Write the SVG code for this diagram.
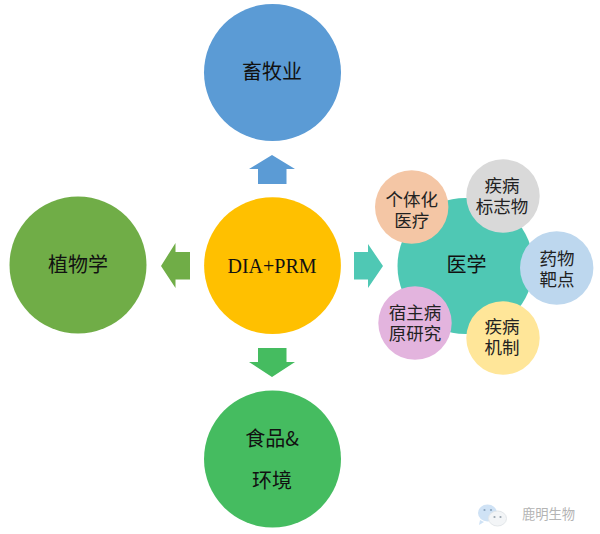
<svg xmlns="http://www.w3.org/2000/svg" width="600" height="534" viewBox="0 0 600 534">
<style>
.l{font-family:"Noto Sans CJK SC","Liberation Sans",sans-serif;font-size:20px;fill:#111;text-anchor:middle}
.s{font-family:"Noto Sans CJK SC","Liberation Sans",sans-serif;font-size:17.5px;fill:#222;text-anchor:middle}
.c{font-family:"Liberation Serif",serif;font-size:20px;fill:#111;text-anchor:middle}
.w{font-family:"Noto Sans CJK SC","Liberation Sans",sans-serif;font-size:13.300px;fill:#b4b4b4;text-anchor:middle}
</style>
<rect width="600" height="534" fill="#fff"/>
<g id="connectors">
<polygon points="272,155 295,169 286.500,169 286.500,184 258,184 258,169 249,169" fill="#5b9bd5"/>
<polygon points="161,266 175.500,243 175.500,252 190,252 190,279.500 175.500,279.500 175.500,288" fill="#70ad47"/>
<polygon points="383,266 368,244 368,252 354,252 354,279.500 368,279.500 368,288" fill="#4fc8b4"/>
<polygon points="272,377 295,362 286.500,362 286.500,348 258,348 258,362 249,362" fill="#45bc60"/>
</g>
<g id="node-xumuye"><circle cx="272.500" cy="72.500" r="68.500" fill="#5b9bd5"/><text class="l" x="272" y="79">畜牧业</text></g>
<g id="node-zhiwuxue"><circle cx="78" cy="265" r="68.500" fill="#70ad47"/><text class="l" x="78" y="272">植物学</text></g>
<g id="node-center"><circle cx="272.500" cy="265.700" r="68.400" fill="#ffc000"/><text class="c" x="272" y="273">DIA+PRM</text></g>
<g id="node-food"><circle cx="272.500" cy="459" r="68.500" fill="#45bc60"/><text class="l" x="272" y="446">食品&amp;</text><text class="l" x="272" y="488">环境</text></g>
<g id="node-yixue"><circle cx="465.500" cy="266" r="68" fill="#4fc8b4"/><text class="l" x="466.500" y="272">医学</text></g>
<g id="node-geti"><circle cx="411.700" cy="207" r="36.700" fill="#f4c6a5"/><text class="s" x="411.700" y="205.500">个体化</text><text class="s" x="411.700" y="226.500">医疗</text></g>
<g id="node-biaozhi"><circle cx="503" cy="196" r="36.700" fill="#d9d9d9"/><text class="s" x="502" y="191.500">疾病</text><text class="s" x="502" y="213">标志物</text></g>
<g id="node-baxiang"><circle cx="556.700" cy="268" r="36.700" fill="#bdd7ee"/><text class="s" x="557" y="264.500">药物</text><text class="s" x="557" y="285.500">靶点</text></g>
<g id="node-jizhi"><circle cx="503" cy="338" r="36.700" fill="#ffe699"/><text class="s" x="502" y="332.500">疾病</text><text class="s" x="502" y="353.500">机制</text></g>
<g id="node-suzhu"><circle cx="415" cy="323" r="36.700" fill="#e3b4de"/><text class="s" x="415" y="318.500">宿主病</text><text class="s" x="415" y="339.500">原研究</text></g>
<g id="watermark">
<path d="M480 520 L479 525 L484 522Z" fill="#cfe2f5"/>
<ellipse cx="487.500" cy="513" rx="9.500" ry="8.500" fill="#cfe2f5"/>
<circle cx="484.500" cy="510" r="1.100" fill="#8aa4bd"/><circle cx="491" cy="510" r="1.100" fill="#8aa4bd"/>
<ellipse cx="497.500" cy="518.500" rx="9" ry="7.500" fill="#f3f5f7" stroke="#e3e7ea"/>
<circle cx="494.500" cy="517" r="1.100" fill="#9aa6b0"/><circle cx="500.500" cy="517" r="1.100" fill="#9aa6b0"/>
<text class="w" x="548.500" y="519">鹿明生物</text>
</g>
</svg>
